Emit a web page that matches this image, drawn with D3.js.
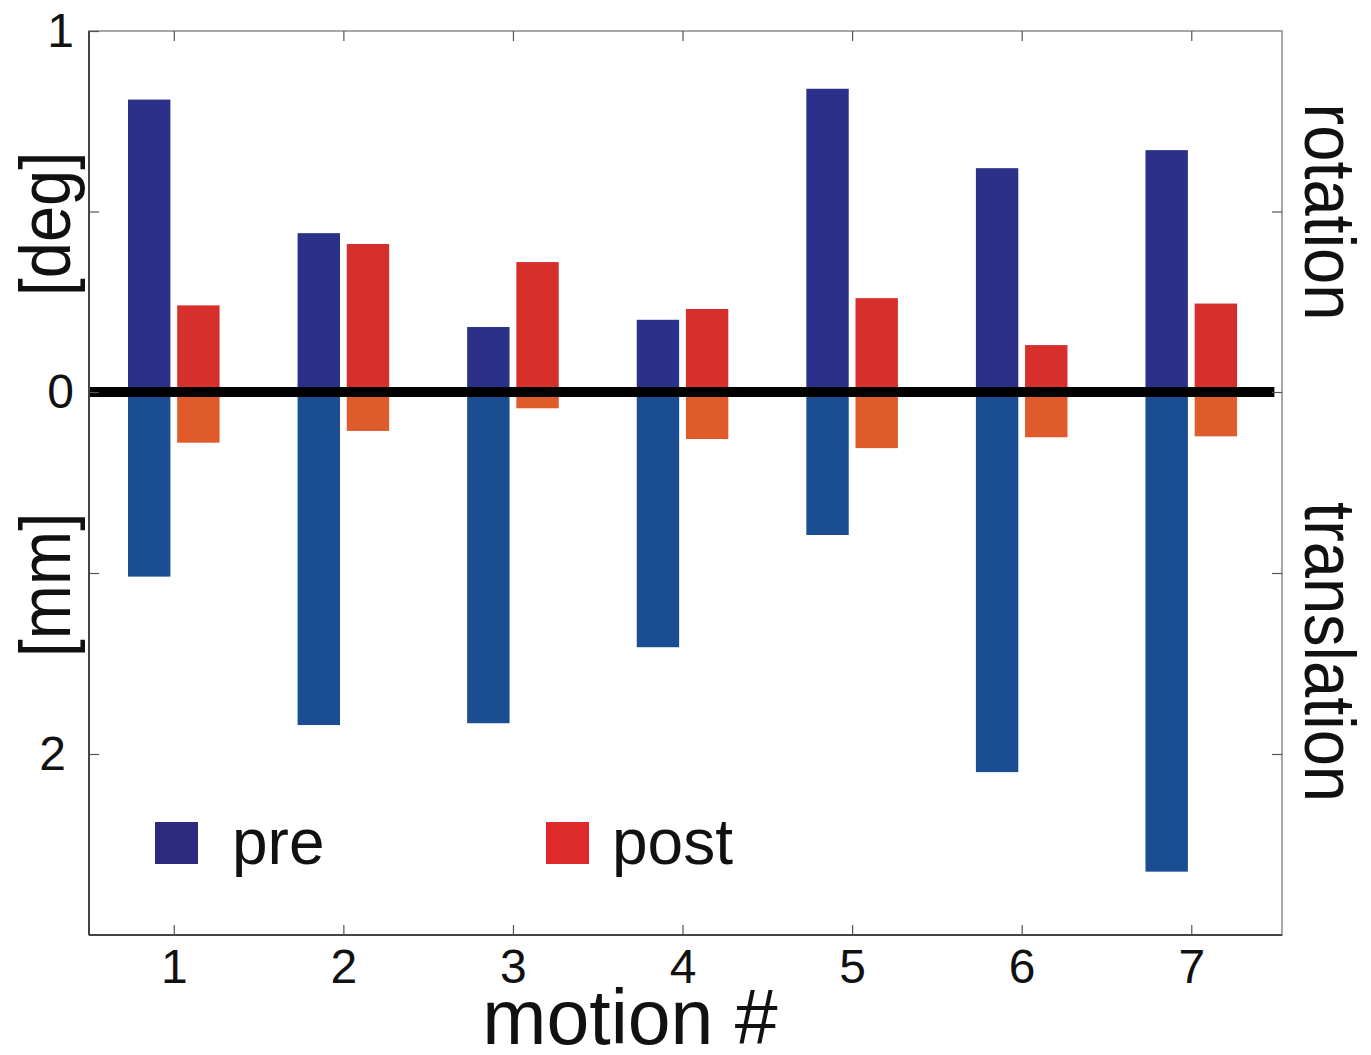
<!DOCTYPE html>
<html>
<head>
<meta charset="utf-8">
<script src="https://cdn.jsdelivr.net/npm/d3@7"></script>
<style>
  body { margin: 0; background: #fff; }
  text { font-family: "Liberation Sans", Arial, sans-serif; fill: #111; }
</style>
</head>
<body>
<div id="chart"></div>
<script>
// motion index
const motions = [1, 2, 3, 4, 5, 6, 7];
// rotation [deg], plotted upward
const preRotation  = [0.81, 0.44, 0.18, 0.20, 0.84, 0.62, 0.67];
const postRotation = [0.24, 0.41, 0.36, 0.23, 0.26, 0.13, 0.245];
// translation [mm], plotted downward
const preTranslation  = [1.02, 1.84, 1.83, 1.41, 0.79, 2.10, 2.65];
const postTranslation = [0.28, 0.215, 0.09, 0.26, 0.31, 0.25, 0.245];
const legendLabels = ['pre', 'post'];

const W = 1371, H = 1055;
const plotLeft = 89, plotRight = 1282, plotTop = 31, zeroY = 392, plotBottom = 935;

const svg = d3.select('#chart').append('svg')
    .attr('width', W).attr('height', H);

const x = d3.scaleLinear().domain([0.5, 7.535]).range([plotLeft, plotRight]);
const yRot = d3.scaleLinear().domain([0, 1]).range([zeroY, plotTop]);
const yTrans = d3.scaleLinear().domain([0, 3]).range([zeroY, plotBottom]);

const barW = 0.25;
const series = [
    { vals: preRotation, off: -0.27, scale: yRot, color: '#2B3189' },
    { vals: postRotation, off: 0.02, scale: yRot, color: '#D7302C' },
    { vals: preTranslation, off: -0.27, scale: yTrans, color: '#1A4D91' },
    { vals: postTranslation, off: 0.02, scale: yTrans, color: '#E05B2B' }
];

// bars
series.forEach(s => {
    svg.append('g').selectAll('rect')
        .data(motions)
        .enter()
        .append('rect')
        .attr('x', (d) => x(d + s.off))
        .attr('width', x(barW) - x(0))
        .attr('y', (d, i) => Math.min(s.scale(s.vals[i]), zeroY))
        .attr('height', (d, i) => Math.abs(s.scale(s.vals[i]) - zeroY))
        .style('fill', s.color);
});

// zero line
svg.append('line')
    .attr('x1', x(0.5)).attr('x2', x(7.49))
    .attr('y1', yRot(0)).attr('y2', yRot(0))
    .style('stroke', '#000').style('stroke-width', 10);

// box
svg.append('rect')
    .attr('x', plotLeft).attr('y', plotTop)
    .attr('width', plotRight - plotLeft).attr('height', plotBottom - plotTop)
    .style('fill', 'none').style('stroke', '#8a8a8a').style('stroke-width', 1.5);
svg.append('line').attr('x1', plotLeft).attr('x2', plotLeft).attr('y1', plotTop).attr('y2', plotBottom)
    .style('stroke', '#444').style('stroke-width', 2);
svg.append('line').attr('x1', plotLeft).attr('x2', plotRight).attr('y1', plotBottom).attr('y2', plotBottom)
    .style('stroke', '#444').style('stroke-width', 2);

// axes
function styleAxis(g) {
    g.select('.domain').remove();
    g.selectAll('.tick line').style('stroke', '#555').style('stroke-width', 1.2);
    g.selectAll('.tick text')
        .style('font-family', '"Liberation Sans", Arial, sans-serif')
        .style('font-size', '48px').style('fill', '#111');
}

svg.append('g')
    .attr('transform', `translate(0,${plotBottom})`)
    .call(d3.axisBottom(x).tickValues(motions).tickSize(-10).tickPadding(14).tickFormat(d3.format('d')))
    .call(styleAxis);
svg.append('g')
    .attr('transform', `translate(0,${plotTop})`)
    .call(d3.axisTop(x).tickValues(motions).tickSize(-10).tickFormat(''))
    .call(styleAxis);

svg.append('g')
    .attr('transform', `translate(${plotLeft},0)`)
    .call(d3.axisLeft(yRot).tickValues([0, 0.5, 1]).tickSize(-10).tickPadding(15)
        .tickFormat(d => d === 0.5 ? '' : d3.format('d')(d)))
    .call(styleAxis);
svg.append('g')
    .attr('transform', `translate(${plotLeft},0)`)
    .call(d3.axisLeft(yTrans).tickValues([1, 2]).tickSize(-10).tickPadding(23)
        .tickFormat(d => d === 2 ? '2' : ''))
    .call(styleAxis);

svg.append('g')
    .attr('transform', `translate(${plotRight},0)`)
    .call(d3.axisRight(yRot).tickValues([0, 0.5]).tickSize(-10).tickFormat(''))
    .call(styleAxis);
svg.append('g')
    .attr('transform', `translate(${plotRight},0)`)
    .call(d3.axisRight(yTrans).tickValues([1, 2]).tickSize(-10).tickFormat(''))
    .call(styleAxis);

// axis titles
function rotLabel(txt, cx, cy, angle) {
    svg.append('text')
        .attr('transform', `translate(${cx},${cy}) rotate(${angle}) scale(1,1.12)`)
        .attr('text-anchor', 'middle')
        .attr('dominant-baseline', 'central')
        .style('font-size', '65px')
        .text(txt);
}
rotLabel('[deg]', 45, 224, -90);
rotLabel('[mm]', 45, 585, -90);
rotLabel('rotation', 1330, 212, 90);
rotLabel('translation', 1330, 652, 90);

svg.append('text')
    .attr('x', 630).attr('y', 1044)
    .attr('text-anchor', 'middle')
    .style('font-size', '77px')
    .text('motion #');

// legend
const legendColors = ['#2B2A7C', '#DD2A2B'];
const legendX = [155, 546];
const lg = svg.append('g').selectAll('g')
    .data(legendLabels)
    .enter()
    .append('g')
    .attr('transform', (d, i) => `translate(${legendX[i]},822)`);
lg.append('rect')
    .attr('width', 43).attr('height', 42)
    .style('fill', (d, i) => legendColors[i]);
lg.append('text')
    .attr('x', (d, i) => i === 0 ? 77 : 66)
    .attr('y', 42)
    .style('font-size', '64px')
    .text(d => d);
</script>
</body>
</html>
